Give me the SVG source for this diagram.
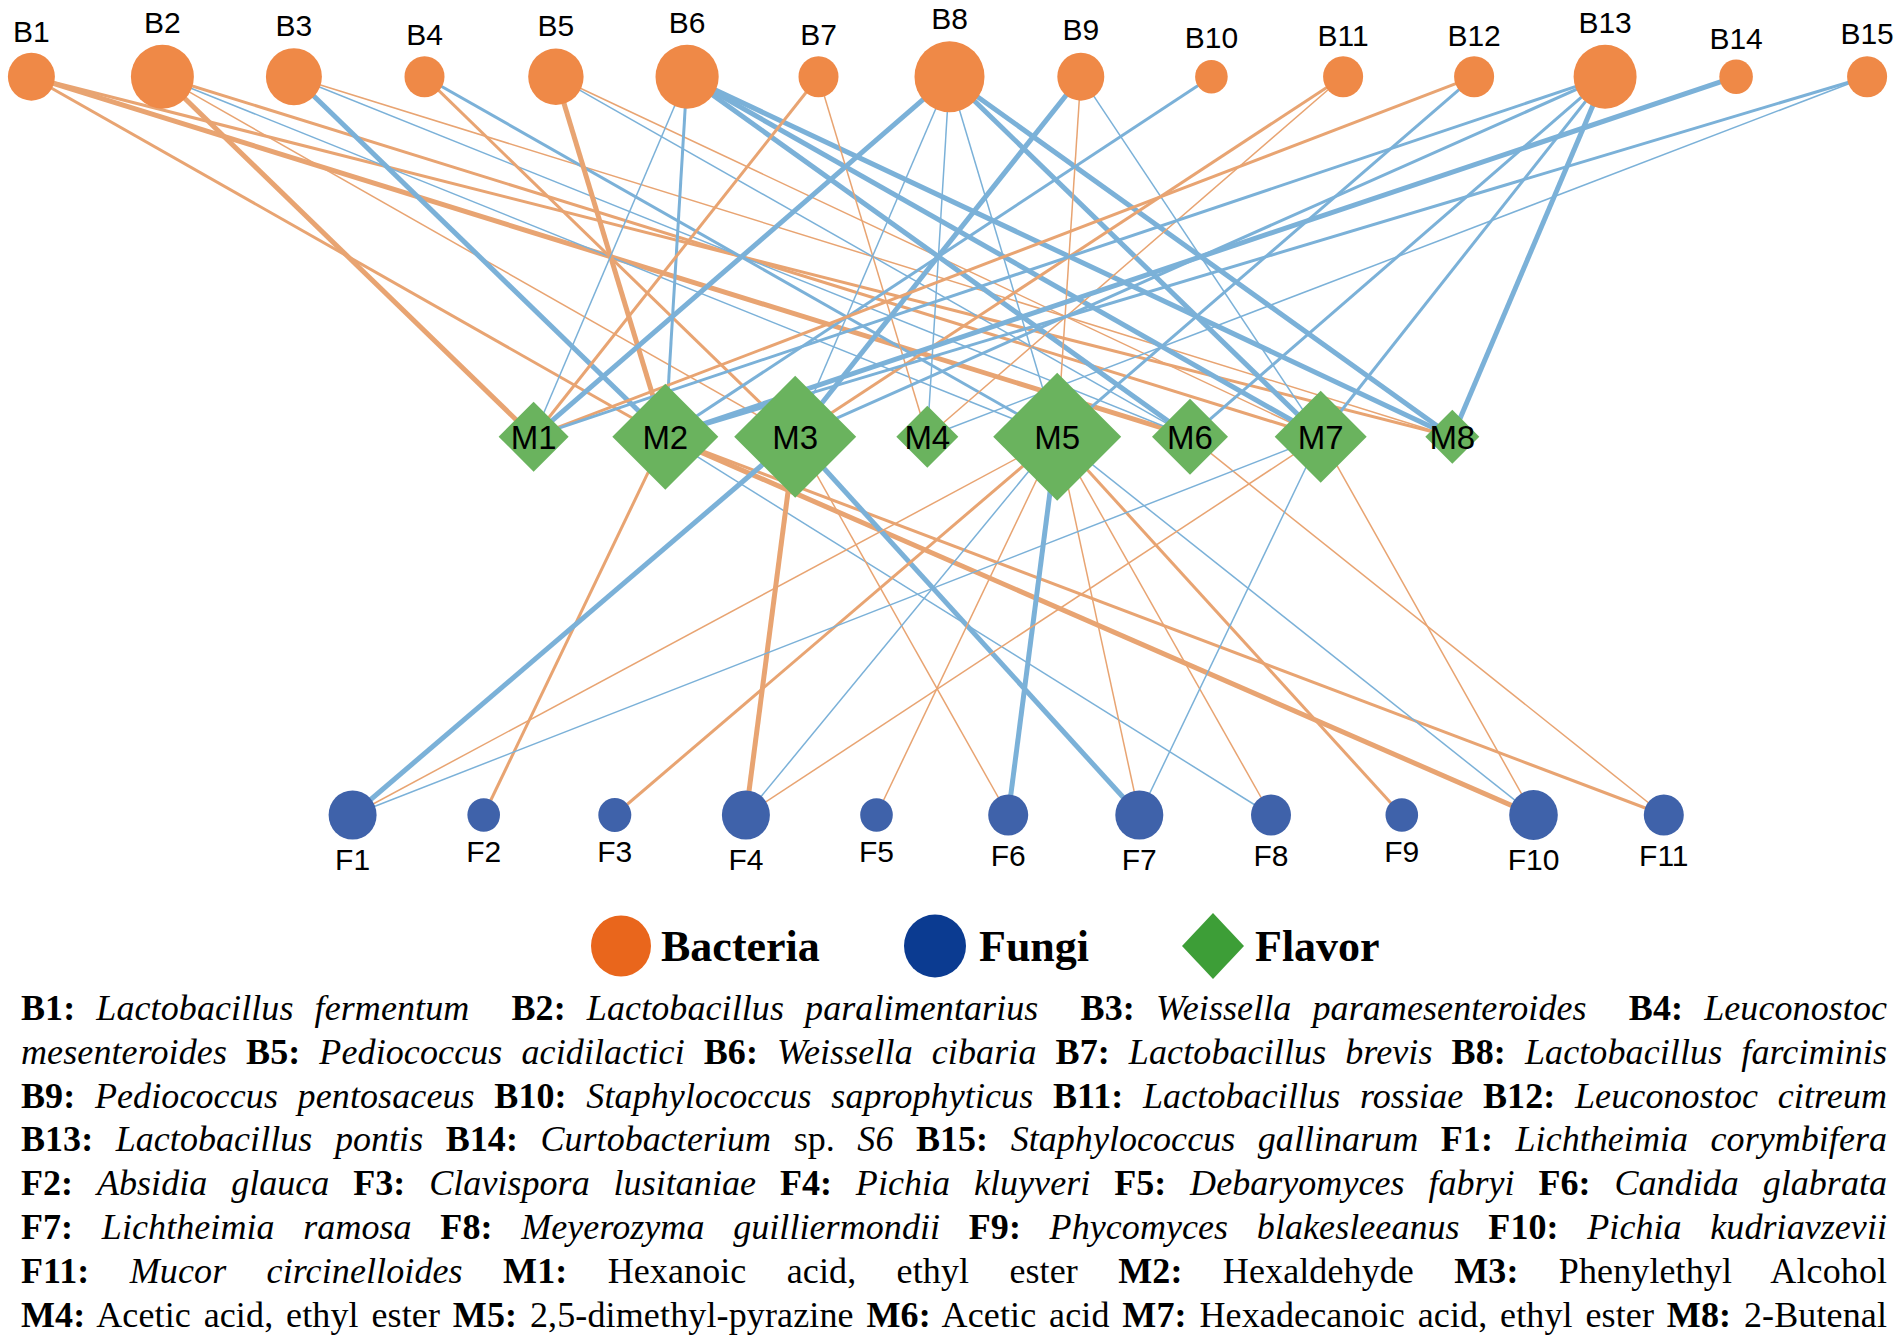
<svg xmlns="http://www.w3.org/2000/svg" width="1902" height="1341" viewBox="0 0 1902 1341">
<style>
.o1{stroke:#E8A472;stroke-width:1.5}
.o2{stroke:#E8A472;stroke-width:3}
.o3{stroke:#E8A472;stroke-width:5}
.b1{stroke:#7BB1D8;stroke-width:1.5}
.b2{stroke:#7BB1D8;stroke-width:3}
.b3{stroke:#7BB1D8;stroke-width:5}
.bac{fill:#EF8947}
.fun{fill:#3F62AA}
.fla{fill:#6AB35E}
.nl{font-family:"Liberation Sans",Arial,sans-serif;font-size:30px;fill:#000;text-anchor:middle}
.ml{font-family:"Liberation Sans",Arial,sans-serif;font-size:33px;fill:#000;text-anchor:middle}
.lg{font-family:"Liberation Serif","Times New Roman",serif;font-size:44px;font-weight:bold;fill:#000}
.tx{font-family:"Liberation Serif","Times New Roman",serif;font-size:36px;fill:#000}
.b{font-weight:bold}
.i{font-style:italic}
</style>
<rect width="1902" height="1341" fill="#fff"/>
<g id="connectors" fill="none">
<line class="o2" x1="31.4" y1="76.7" x2="665.3" y2="436.7"/>
<line class="o3" x1="31.4" y1="76.7" x2="1190" y2="436.7"/>
<line class="o2" x1="31.4" y1="76.7" x2="1452.3" y2="436.7"/>
<line class="o3" x1="162.4" y1="76.7" x2="533.6" y2="436.7"/>
<line class="o1" x1="162.4" y1="76.7" x2="795.2" y2="436.7"/>
<line class="b1" x1="162.4" y1="76.7" x2="1057.2" y2="436.7"/>
<line class="o2" x1="162.4" y1="76.7" x2="1320.7" y2="436.7"/>
<line class="b3" x1="293.9" y1="76.7" x2="665.3" y2="436.7"/>
<line class="b1" x1="293.9" y1="76.7" x2="1190" y2="436.7"/>
<line class="o1" x1="293.9" y1="76.7" x2="1452.3" y2="436.7"/>
<line class="o2" x1="424.5" y1="76.7" x2="795.2" y2="436.7"/>
<line class="b2" x1="424.5" y1="76.7" x2="1057.2" y2="436.7"/>
<line class="o3" x1="555.9" y1="76.7" x2="665.3" y2="436.7"/>
<line class="o1" x1="555.9" y1="76.7" x2="1320.7" y2="436.7"/>
<line class="b1" x1="555.9" y1="76.7" x2="1190" y2="436.7"/>
<line class="b1" x1="687.1" y1="76.7" x2="533.6" y2="436.7"/>
<line class="b2" x1="687.1" y1="76.7" x2="665.3" y2="436.7"/>
<line class="b3" x1="687.1" y1="76.7" x2="1190" y2="436.7"/>
<line class="b3" x1="687.1" y1="76.7" x2="1320.7" y2="436.7"/>
<line class="b3" x1="687.1" y1="76.7" x2="1452.3" y2="436.7"/>
<line class="o2" x1="818.5" y1="76.7" x2="533.6" y2="436.7"/>
<line class="o1" x1="818.5" y1="76.7" x2="927.3" y2="436.7"/>
<line class="b3" x1="949.5" y1="76.7" x2="533.6" y2="436.7"/>
<line class="b1" x1="949.5" y1="76.7" x2="795.2" y2="436.7"/>
<line class="b1" x1="949.5" y1="76.7" x2="927.3" y2="436.7"/>
<line class="b1" x1="949.5" y1="76.7" x2="1057.2" y2="436.7"/>
<line class="b3" x1="949.5" y1="76.7" x2="1320.7" y2="436.7"/>
<line class="b3" x1="949.5" y1="76.7" x2="1452.3" y2="436.7"/>
<line class="b3" x1="1080.8" y1="76.7" x2="795.2" y2="436.7"/>
<line class="o1" x1="1080.8" y1="76.7" x2="1057.2" y2="436.7"/>
<line class="b1" x1="1080.8" y1="76.7" x2="1320.7" y2="436.7"/>
<line class="b2" x1="1211.4" y1="76.7" x2="665.3" y2="436.7"/>
<line class="o2" x1="1343.1" y1="76.7" x2="795.2" y2="436.7"/>
<line class="o1" x1="1343.1" y1="76.7" x2="927.3" y2="436.7"/>
<line class="o2" x1="1474.1" y1="76.7" x2="533.6" y2="436.7"/>
<line class="b2" x1="1474.1" y1="76.7" x2="1057.2" y2="436.7"/>
<line class="b2" x1="1605.1" y1="76.7" x2="533.6" y2="436.7"/>
<line class="b2" x1="1605.1" y1="76.7" x2="795.2" y2="436.7"/>
<line class="b2" x1="1605.1" y1="76.7" x2="1190" y2="436.7"/>
<line class="b2" x1="1605.1" y1="76.7" x2="1320.7" y2="436.7"/>
<line class="b3" x1="1605.1" y1="76.7" x2="1452.3" y2="436.7"/>
<line class="b3" x1="1736.1" y1="76.7" x2="665.3" y2="436.7"/>
<line class="b2" x1="1867.1" y1="76.7" x2="665.3" y2="436.7"/>
<line class="b1" x1="1867.1" y1="76.7" x2="927.3" y2="436.7"/>
<line class="o2" x1="665.3" y1="436.7" x2="483.7" y2="815"/>
<line class="b1" x1="665.3" y1="436.7" x2="1271" y2="815"/>
<line class="o3" x1="665.3" y1="436.7" x2="1533.5" y2="815"/>
<line class="o2" x1="665.3" y1="436.7" x2="1663.8" y2="815"/>
<line class="b3" x1="795.2" y1="436.7" x2="352.6" y2="815"/>
<line class="o3" x1="795.2" y1="436.7" x2="745.9" y2="815"/>
<line class="o1" x1="795.2" y1="436.7" x2="1008.2" y2="815"/>
<line class="b3" x1="795.2" y1="436.7" x2="1139.3" y2="815"/>
<line class="o1" x1="1057.2" y1="436.7" x2="352.6" y2="815"/>
<line class="o2" x1="1057.2" y1="436.7" x2="614.8" y2="815"/>
<line class="b1" x1="1057.2" y1="436.7" x2="745.9" y2="815"/>
<line class="o1" x1="1057.2" y1="436.7" x2="876.5" y2="815"/>
<line class="b3" x1="1057.2" y1="436.7" x2="1008.2" y2="815"/>
<line class="o1" x1="1057.2" y1="436.7" x2="1139.3" y2="815"/>
<line class="o1" x1="1057.2" y1="436.7" x2="1271" y2="815"/>
<line class="o2" x1="1057.2" y1="436.7" x2="1401.8" y2="815"/>
<line class="b1" x1="1057.2" y1="436.7" x2="1533.5" y2="815"/>
<line class="o1" x1="1190" y1="436.7" x2="1663.8" y2="815"/>
<line class="b1" x1="1320.7" y1="436.7" x2="352.6" y2="815"/>
<line class="o1" x1="1320.7" y1="436.7" x2="745.9" y2="815"/>
<line class="b1" x1="1320.7" y1="436.7" x2="1139.3" y2="815"/>
<line class="o1" x1="1320.7" y1="436.7" x2="1533.5" y2="815"/>
</g>
<g id="B1"><ellipse class="bac" cx="31.4" cy="76.7" rx="23.5" ry="24"/><text class="nl" x="31.4" y="41.5">B1</text></g>
<g id="B2"><ellipse class="bac" cx="162.4" cy="76.7" rx="31.5" ry="32"/><text class="nl" x="162.4" y="33.3">B2</text></g>
<g id="B3"><ellipse class="bac" cx="293.9" cy="76.7" rx="28" ry="28.5"/><text class="nl" x="293.9" y="35.5">B3</text></g>
<g id="B4"><ellipse class="bac" cx="424.5" cy="76.7" rx="20" ry="20.5"/><text class="nl" x="424.5" y="45">B4</text></g>
<g id="B5"><ellipse class="bac" cx="555.9" cy="76.7" rx="27.7" ry="28.2"/><text class="nl" x="555.9" y="35.5">B5</text></g>
<g id="B6"><ellipse class="bac" cx="687.1" cy="76.7" rx="31.6" ry="32"/><text class="nl" x="687.1" y="33">B6</text></g>
<g id="B7"><ellipse class="bac" cx="818.5" cy="76.7" rx="20" ry="20.5"/><text class="nl" x="818.5" y="45">B7</text></g>
<g id="B8"><ellipse class="bac" cx="949.5" cy="76.7" rx="35" ry="35.5"/><text class="nl" x="949.5" y="29">B8</text></g>
<g id="B9"><ellipse class="bac" cx="1080.8" cy="76.7" rx="23.5" ry="24"/><text class="nl" x="1080.8" y="40">B9</text></g>
<g id="B10"><ellipse class="bac" cx="1211.4" cy="76.7" rx="16.3" ry="16.8"/><text class="nl" x="1211.4" y="48">B10</text></g>
<g id="B11"><ellipse class="bac" cx="1343.1" cy="76.7" rx="20" ry="20.5"/><text class="nl" x="1343.1" y="46">B11</text></g>
<g id="B12"><ellipse class="bac" cx="1474.1" cy="76.7" rx="20" ry="20.5"/><text class="nl" x="1474.1" y="46">B12</text></g>
<g id="B13"><ellipse class="bac" cx="1605.1" cy="76.7" rx="31.5" ry="32"/><text class="nl" x="1605.1" y="33">B13</text></g>
<g id="B14"><ellipse class="bac" cx="1736.1" cy="76.7" rx="16.8" ry="17.3"/><text class="nl" x="1736.1" y="49">B14</text></g>
<g id="B15"><ellipse class="bac" cx="1867.1" cy="76.7" rx="20" ry="20.5"/><text class="nl" x="1867.1" y="44">B15</text></g>
<g id="M1"><polygon class="fla" points="533.6,401.7 568.6,436.7 533.6,471.7 498.6,436.7"/><text class="ml" x="533.6" y="448.5">M1</text></g>
<g id="M2"><polygon class="fla" points="665.3,383.7 718.3,436.7 665.3,489.7 612.3,436.7"/><text class="ml" x="665.3" y="448.5">M2</text></g>
<g id="M3"><polygon class="fla" points="795.2,375.7 856.2,436.7 795.2,497.7 734.2,436.7"/><text class="ml" x="795.2" y="448.5">M3</text></g>
<g id="M4"><polygon class="fla" points="927.3,405.7 958.3,436.7 927.3,467.7 896.3,436.7"/><text class="ml" x="927.3" y="448.5">M4</text></g>
<g id="M5"><polygon class="fla" points="1057.2,372.7 1121.2,436.7 1057.2,500.7 993.2,436.7"/><text class="ml" x="1057.2" y="448.5">M5</text></g>
<g id="M6"><polygon class="fla" points="1190,398.7 1228,436.7 1190,474.7 1152,436.7"/><text class="ml" x="1190" y="448.5">M6</text></g>
<g id="M7"><polygon class="fla" points="1320.7,390.7 1366.7,436.7 1320.7,482.7 1274.7,436.7"/><text class="ml" x="1320.7" y="448.5">M7</text></g>
<g id="M8"><polygon class="fla" points="1452.3,409.7 1479.3,436.7 1452.3,463.7 1425.3,436.7"/><text class="ml" x="1452.3" y="448.5">M8</text></g>
<g id="F1"><ellipse class="fun" cx="352.6" cy="815" rx="24" ry="24.6"/><text class="nl" x="352.6" y="870">F1</text></g>
<g id="F2"><ellipse class="fun" cx="483.7" cy="815" rx="16.3" ry="16.8"/><text class="nl" x="483.7" y="862">F2</text></g>
<g id="F3"><ellipse class="fun" cx="614.8" cy="815" rx="16.5" ry="17"/><text class="nl" x="614.8" y="862">F3</text></g>
<g id="F4"><ellipse class="fun" cx="745.9" cy="815" rx="24" ry="24.6"/><text class="nl" x="745.9" y="870">F4</text></g>
<g id="F5"><ellipse class="fun" cx="876.5" cy="815" rx="16.3" ry="16.8"/><text class="nl" x="876.5" y="862">F5</text></g>
<g id="F6"><ellipse class="fun" cx="1008.2" cy="815" rx="20" ry="20.5"/><text class="nl" x="1008.2" y="866">F6</text></g>
<g id="F7"><ellipse class="fun" cx="1139.3" cy="815" rx="24" ry="24.6"/><text class="nl" x="1139.3" y="870">F7</text></g>
<g id="F8"><ellipse class="fun" cx="1271" cy="815" rx="20" ry="20.5"/><text class="nl" x="1271" y="866">F8</text></g>
<g id="F9"><ellipse class="fun" cx="1401.8" cy="815" rx="16.3" ry="16.8"/><text class="nl" x="1401.8" y="862">F9</text></g>
<g id="F10"><ellipse class="fun" cx="1533.5" cy="815" rx="24.3" ry="24.9"/><text class="nl" x="1533.5" y="870">F10</text></g>
<g id="F11"><ellipse class="fun" cx="1663.8" cy="815" rx="20" ry="20.5"/><text class="nl" x="1663.8" y="866">F11</text></g>
<g id="legend">
<ellipse cx="621" cy="946" rx="30" ry="30.5" fill="#E9661C"/>
<text class="lg" x="661" y="961">Bacteria</text>
<ellipse cx="935" cy="946" rx="31" ry="31.5" fill="#0B3B91"/>
<text class="lg" x="979" y="961">Fungi</text>
<polygon points="1213,913 1244,946 1213,979 1182,946" fill="#3D9E37"/>
<text class="lg" x="1255" y="961">Flavor</text>
</g>
<g id="description">
<text class="tx" x="21" y="1020" word-spacing="12" textLength="1866" lengthAdjust="spacing" xml:space="preserve"><tspan class="b">B1:</tspan> <tspan class="i">Lactobacillus fermentum</tspan>  <tspan class="b">B2:</tspan> <tspan class="i">Lactobacillus paralimentarius</tspan>  <tspan class="b">B3:</tspan> <tspan class="i">Weissella paramesenteroides</tspan>  <tspan class="b">B4:</tspan> <tspan class="i">Leuconostoc</tspan></text>
<text class="tx" x="21" y="1063.8" word-spacing="9.9" textLength="1866" lengthAdjust="spacing"><tspan class="i">mesenteroides</tspan> <tspan class="b">B5:</tspan> <tspan class="i">Pediococcus acidilactici</tspan> <tspan class="b">B6:</tspan> <tspan class="i">Weissella cibaria</tspan> <tspan class="b">B7:</tspan> <tspan class="i">Lactobacillus brevis</tspan> <tspan class="b">B8:</tspan> <tspan class="i">Lactobacillus farciminis</tspan></text>
<text class="tx" x="21" y="1107.6" word-spacing="10.5" textLength="1866" lengthAdjust="spacing"><tspan class="b">B9:</tspan> <tspan class="i">Pediococcus pentosaceus</tspan> <tspan class="b">B10:</tspan> <tspan class="i">Staphylococcus saprophyticus</tspan> <tspan class="b">B11:</tspan> <tspan class="i">Lactobacillus rossiae</tspan> <tspan class="b">B12:</tspan> <tspan class="i">Leuconostoc citreum</tspan></text>
<text class="tx" x="21" y="1151.4" word-spacing="13.5" textLength="1866" lengthAdjust="spacing"><tspan class="b">B13:</tspan> <tspan class="i">Lactobacillus pontis</tspan> <tspan class="b">B14:</tspan> <tspan class="i">Curtobacterium</tspan> sp. <tspan class="i">S6</tspan> <tspan class="b">B15:</tspan> <tspan class="i">Staphylococcus gallinarum</tspan> <tspan class="b">F1:</tspan> <tspan class="i">Lichtheimia corymbifera</tspan></text>
<text class="tx" x="21" y="1195.2" word-spacing="14.8" textLength="1866" lengthAdjust="spacing"><tspan class="b">F2:</tspan> <tspan class="i">Absidia glauca</tspan> <tspan class="b">F3:</tspan> <tspan class="i">Clavispora lusitaniae</tspan> <tspan class="b">F4:</tspan> <tspan class="i">Pichia kluyveri</tspan> <tspan class="b">F5:</tspan> <tspan class="i">Debaryomyces fabryi</tspan> <tspan class="b">F6:</tspan> <tspan class="i">Candida glabrata</tspan></text>
<text class="tx" x="21" y="1239" word-spacing="19.6" textLength="1866" lengthAdjust="spacing"><tspan class="b">F7:</tspan> <tspan class="i">Lichtheimia ramosa</tspan> <tspan class="b">F8:</tspan> <tspan class="i">Meyerozyma guilliermondii</tspan> <tspan class="b">F9:</tspan> <tspan class="i">Phycomyces blakesleeanus</tspan> <tspan class="b">F10:</tspan> <tspan class="i">Pichia kudriavzevii</tspan></text>
<text class="tx" x="21" y="1282.8" word-spacing="31.2" textLength="1866" lengthAdjust="spacing"><tspan class="b">F11:</tspan> <tspan class="i">Mucor circinelloides</tspan> <tspan class="b">M1:</tspan> Hexanoic acid, ethyl ester <tspan class="b">M2:</tspan> Hexaldehyde <tspan class="b">M3:</tspan> Phenylethyl Alcohol</text>
<text class="tx" x="21" y="1326.6" word-spacing="3.6" textLength="1866" lengthAdjust="spacing"><tspan class="b">M4:</tspan> Acetic acid, ethyl ester <tspan class="b">M5:</tspan> 2,5-dimethyl-pyrazine <tspan class="b">M6:</tspan> Acetic acid <tspan class="b">M7:</tspan> Hexadecanoic acid, ethyl ester <tspan class="b">M8:</tspan> 2-Butenal</text>
</g>
</svg>
